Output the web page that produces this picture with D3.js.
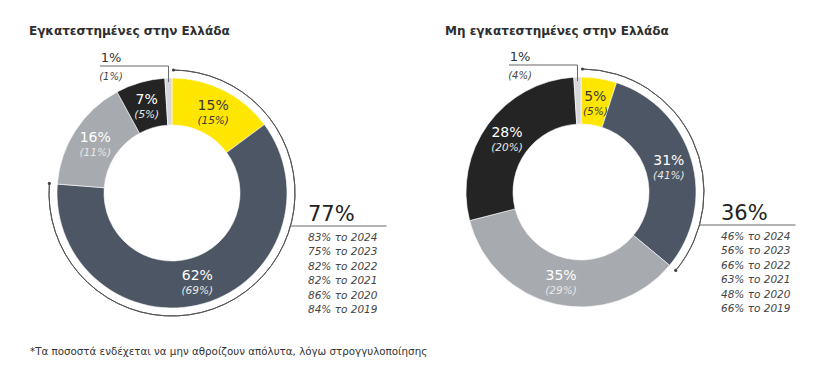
<!DOCTYPE html>
<html>
<head>
<meta charset="utf-8">
<script src="https://cdn.jsdelivr.net/npm/d3@7"></script>
<style>
  body { margin: 0; background: #fff; }
  svg { display: block; font-family: "DejaVu Sans", Verdana, sans-serif; }
</style>
</head>
<body>
<svg id="chart" width="821" height="378"></svg>
<script>
// segment order, clockwise from 12 o'clock
var segments = ["yellow", "slate", "gray", "black", "light"];
var segmentColors = ["#ffe600", "#4c5664", "#a7aaae", "#242424", "#d6d7d9"];

var installedTitle = "Εγκατεστημένες στην Ελλάδα";
var installedValues = [15, 62, 16, 7, 1];
var installedPrev = [15, 69, 11, 5, 1];
var installedTotal = 77;
var installedHistory = [83, 75, 82, 82, 86, 84];

var foreignTitle = "Μη εγκατεστημένες στην Ελλάδα";
var foreignValues = [5, 31, 35, 28, 1];
var foreignPrev = [5, 41, 29, 20, 4];
var foreignTotal = 36;
var foreignHistory = [46, 56, 66, 63, 48, 66];

var historyYears = [2024, 2023, 2022, 2021, 2020, 2019];
var footnote = "*Τα ποσοστά ενδέχεται να μην αθροίζουν απόλυτα, λόγω στρογγυλοποίησης";

var svg = d3.select("#chart");
var outerR = 115, innerR = 68, bracketR = 123;

var pie = d3.pie().sort(null).value(function(d) { return d; });
var arc = d3.arc().innerRadius(innerR).outerRadius(outerR);
var labelArc = d3.arc().innerRadius((innerR + outerR) / 2).outerRadius((innerR + outerR) / 2);

function drawDonut(opts) {
  var g = svg.append("g").attr("transform", "translate(" + opts.cx + "," + opts.cy + ")");

  svg.append("text")
    .attr("x", opts.titleX).attr("y", 35)
    .attr("font-size", 12).attr("font-weight", "bold").attr("fill", "#2e2e2e")
    .text(opts.title);

  var arcs = pie(opts.values);

  g.selectAll("path.slice")
    .data(arcs)
    .enter().append("path")
    .attr("class", "slice")
    .attr("d", arc)
    .attr("fill", function(d, i) { return segmentColors[i]; })
    .attr("stroke", "#fff").attr("stroke-width", 0.6);

  // inside labels (skip the tiny last slice)
  var inner = arcs.slice(0, arcs.length - 1);
  var lab = g.selectAll("g.lab")
    .data(inner)
    .enter().append("g")
    .attr("class", "lab")
    .attr("transform", function(d) { return "translate(" + labelArc.centroid(d) + ")"; });
  lab.append("text")
    .attr("text-anchor", "middle").attr("y", -1)
    .attr("font-size", 14)
    .attr("fill", function(d, i) { return i === 0 ? "#3a3a3a" : "#fff"; })
    .text(function(d) { return d.data + "%"; });
  lab.append("text")
    .attr("text-anchor", "middle").attr("y", 13)
    .attr("font-size", 10.5).attr("font-style", "italic")
    .attr("fill", function(d, i) { return i === 0 ? "#3a3a3a" : "#e8e8e8"; })
    .text(function(d, i) { return "(" + opts.prev[i] + "%)"; });

  // tiny slice callout
  var last = arcs[arcs.length - 1];
  var mid = (last.startAngle + last.endAngle) / 2;
  var px = Math.sin(mid) * (outerR - 4);
  var py = -Math.cos(mid) * (outerR - 4);
  var lineY = -127;
  g.append("path")
    .attr("d", "M" + (-72) + "," + lineY + "H" + px + "V" + py)
    .attr("fill", "none").attr("stroke", "#666").attr("stroke-width", 1);
  g.append("text")
    .attr("x", -61).attr("y", lineY - 4).attr("text-anchor", "middle")
    .attr("font-size", 13).attr("fill", "#333")
    .text(last.data + "%");
  g.append("text")
    .attr("x", -61).attr("y", lineY + 14).attr("text-anchor", "middle")
    .attr("font-size", 10).attr("font-style", "italic").attr("fill", "#444")
    .text("(" + opts.prev[arcs.length - 1] + "%)");

  // bracket arc over the first two segments
  var endA = arcs[1].endAngle;
  var startA = 0.012;
  var bracket = d3.arc().innerRadius(bracketR).outerRadius(bracketR)
    .startAngle(startA).endAngle(endA);
  g.append("path")
    .attr("d", bracket())
    .attr("fill", "none").attr("stroke", "#555").attr("stroke-width", 1);
  [startA, endA].forEach(function(a) {
    g.append("circle")
      .attr("cx", Math.sin(a) * bracketR).attr("cy", -Math.cos(a) * bracketR)
      .attr("r", 1.6).attr("fill", "#444");
  });

  // total callout
  var calloutDy = 33;
  var calloutX = Math.sqrt(bracketR * bracketR - calloutDy * calloutDy);
  g.append("line")
    .attr("x1", calloutX).attr("x2", calloutX + 96)
    .attr("y1", calloutDy).attr("y2", calloutDy)
    .attr("stroke", "#666").attr("stroke-width", 1);
  g.append("text")
    .attr("x", opts.textDx).attr("y", calloutDy - 5)
    .attr("font-size", 21).attr("fill", "#222")
    .text(opts.total + "%");
  g.selectAll("text.hist")
    .data(opts.history)
    .enter().append("text")
    .attr("class", "hist")
    .attr("x", opts.textDx)
    .attr("y", function(d, i) { return calloutDy + 15 + i * 14.4; })
    .attr("font-size", 10.5).attr("font-style", "italic").attr("fill", "#444")
    .text(function(d, i) { return d + "% το " + historyYears[i]; });
}

drawDonut({
  cx: 172, cy: 193, titleX: 29, title: installedTitle,
  values: installedValues, prev: installedPrev,
  total: installedTotal, history: installedHistory, textDx: 136
});

drawDonut({
  cx: 581, cy: 192, titleX: 445, title: foreignTitle,
  values: foreignValues, prev: foreignPrev,
  total: foreignTotal, history: foreignHistory, textDx: 140
});

svg.append("text")
  .attr("x", 30).attr("y", 355)
  .attr("font-size", 10.3).attr("fill", "#333")
  .text(footnote);
</script>
</body>
</html>
